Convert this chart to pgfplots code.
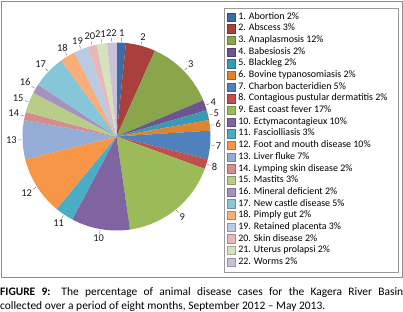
\documentclass[border=0pt]{standalone}
\usepackage{fontspec}
\setmainfont{Carlito}
\usepackage{pgfplots}
\usepackage{pgfplotstable}
\pgfplotsset{compat=1.18}

\definecolor{c1}{HTML}{3D6CA5}
\definecolor{c2}{HTML}{A9403D}
\definecolor{c3}{HTML}{8AA64C}
\definecolor{c4}{HTML}{6E5490}
\definecolor{c5}{HTML}{3A9AB4}
\definecolor{c6}{HTML}{E0822E}
\definecolor{c7}{HTML}{4F81BD}
\definecolor{c8}{HTML}{C0504D}
\definecolor{c9}{HTML}{9BBB59}
\definecolor{c10}{HTML}{8064A2}
\definecolor{c11}{HTML}{4BACC6}
\definecolor{c12}{HTML}{F79646}
\definecolor{c13}{HTML}{94ADD6}
\definecolor{c14}{HTML}{D48D8B}
\definecolor{c15}{HTML}{B8CD8A}
\definecolor{c16}{HTML}{A592C0}
\definecolor{c17}{HTML}{86C6D9}
\definecolor{c18}{HTML}{F9AD78}
\definecolor{c19}{HTML}{B9CAE5}
\definecolor{c20}{HTML}{E6B9B8}
\definecolor{c21}{HTML}{D5E3BD}
\definecolor{c22}{HTML}{CBC0DA}

\newcommand\pielabelfont{\fontsize{10.5}{12}\selectfont}

\pgfplotstableread{
val col lab
1.6 c1 1
5.1 c2 2
12.0 c3 3
1.8 c4 4
1.7 c5 5
1.8 c6 6
4.9 c7 7
1.7 c8 8
17.1 c9 9
10.1 c10 10
3.2 c11 11
10.1 c12 12
6.7 c13 13
1.4 c14 14
3.5 c15 15
1.6 c16 16
5.7 c17 17
2.6 c18 18
2.5 c19 19
1.5 c20 20
1.8 c21 21
1.6 c22 22
}\piedata

\begin{document}
\begin{tikzpicture}
\begin{axis}[
  at={(0,0)}, anchor=south west,
  x=1bp, y=1bp, xmin=0, xmax=403, ymin=0, ymax=312,
  scale only axis, hide axis, clip=false,
  legend image code/.code={\draw[#1] (0bp,-3.1bp) rectangle (8.3bp,5.2bp);},
  legend style={at={(0.5633,0.9606)}, anchor=north west,
    draw=none, fill=none, inner sep=0pt, outer sep=0pt,
    column sep=2.6bp, row sep=0pt,
    font=\fontsize{10}{12}\selectfont,
    nodes={inner sep=0pt, text height=7bp, text depth=4.67bp}},
  legend cell align=left,
]
\pgfplotstablegetrowsof{\piedata}
\pgfmathtruncatemacro\nrows{\pgfplotsretval-1}
\xdef\cum{0}
\foreach \i in {0,...,\nrows}{
  \pgfplotstablegetelem{\i}{val}\of\piedata \let\v\pgfplotsretval
  \pgfplotstablegetelem{\i}{col}\of\piedata \let\c\pgfplotsretval
  \pgfplotstablegetelem{\i}{lab}\of\piedata \let\l\pgfplotsretval
  \pgfmathsetmacro\sa{90-3.6*\cum}
  \pgfmathsetmacro\ea{90-3.6*(\cum+\v)}
  \pgfmathsetmacro\ma{90-3.6*(\cum+\v/2)}
  \pgfmathsetmacro\an{mod(\ma+540,360)}
  \pgfmathsetmacro\newcum{\cum+\v}
  \xdef\cum{\newcum}
  \edef\tmp{\noexpand\fill[\c] (axis cs:116.5,175.5) -- ++(\sa:94bp) arc[start angle=\sa, end angle=\ea, radius=94bp] -- cycle;
    \noexpand\draw[black!55, line width=0.4bp] (axis cs:116.5,175.5) ++(\ma:95bp) -- ++(\ma:3.5bp);
    \noexpand\path (axis cs:116.5,175.5) ++(\ma:99bp) node[anchor=\an, inner sep=0.6bp, font=\noexpand\pielabelfont, text=black!90] {\l};}
  \tmp
}
\addlegendimage{fill=c1,draw=c1!75!black}\addlegendentry{1. Abortion 2\%}
\addlegendimage{fill=c2,draw=c2!75!black}\addlegendentry{2. Abscess 3\%}
\addlegendimage{fill=c3,draw=c3!75!black}\addlegendentry{3. Anaplasmosis 12\%}
\addlegendimage{fill=c4,draw=c4!75!black}\addlegendentry{4. Babesiosis 2\%}
\addlegendimage{fill=c5,draw=c5!75!black}\addlegendentry{5. Blackleg 2\%}
\addlegendimage{fill=c6,draw=c6!75!black}\addlegendentry{6. Bovine typanosomiasis 2\%}
\addlegendimage{fill=c7,draw=c7!75!black}\addlegendentry{7. Charbon bacteridien 5\%}
\addlegendimage{fill=c8,draw=c8!75!black}\addlegendentry{8. Contagious pustular dermatitis 2\%}
\addlegendimage{fill=c9,draw=c9!75!black}\addlegendentry{9. East coast fever 17\%}
\addlegendimage{fill=c10,draw=c10!75!black}\addlegendentry{10. Ectymacontagieux 10\%}
\addlegendimage{fill=c11,draw=c11!75!black}\addlegendentry{11. Fasciolliasis 3\%}
\addlegendimage{fill=c12,draw=c12!75!black}\addlegendentry{12. Foot and mouth disease 10\%}
\addlegendimage{fill=c13,draw=c13!75!black}\addlegendentry{13. Liver fluke 7\%}
\addlegendimage{fill=c14,draw=c14!75!black}\addlegendentry{14. Lymping skin disease 2\%}
\addlegendimage{fill=c15,draw=c15!75!black}\addlegendentry{15. Mastits 3\%}
\addlegendimage{fill=c16,draw=c16!75!black}\addlegendentry{16. Mineral deficient 2\%}
\addlegendimage{fill=c17,draw=c17!75!black}\addlegendentry{17. New castle disease 5\%}
\addlegendimage{fill=c18,draw=c18!75!black}\addlegendentry{18. Pimply gut 2\%}
\addlegendimage{fill=c19,draw=c19!75!black}\addlegendentry{19. Retained placenta 3\%}
\addlegendimage{fill=c20,draw=c20!75!black}\addlegendentry{20. Skin disease 2\%}
\addlegendimage{fill=c21,draw=c21!75!black}\addlegendentry{21. Uterus prolapsi 2\%}
\addlegendimage{fill=c22,draw=c22!75!black}\addlegendentry{22. Worms 2\%}
\end{axis}
% frames
\draw[black!45, line width=0.8bp] (1bp,35bp) rectangle (402bp,311bp);
\draw[black!40, line width=0.6bp] (224bp,40bp) rectangle (398bp,304bp);
% caption
\node[anchor=base west, inner sep=0pt, font=\fontsize{11.5}{14}\selectfont] at (0bp,17bp)
  {\makebox[403bp][s]{\textbf{FIGURE 9:} The percentage of animal disease cases for the Kagera River Basin}};
\node[anchor=base west, inner sep=0pt, font=\fontsize{11.5}{14}\selectfont] at (0bp,2.7bp)
  {collected over a period of eight months, September 2012 -- May 2013.};
\pgfresetboundingbox
\useasboundingbox (0,0) rectangle (403bp,312bp);
\end{tikzpicture}
\end{document}
